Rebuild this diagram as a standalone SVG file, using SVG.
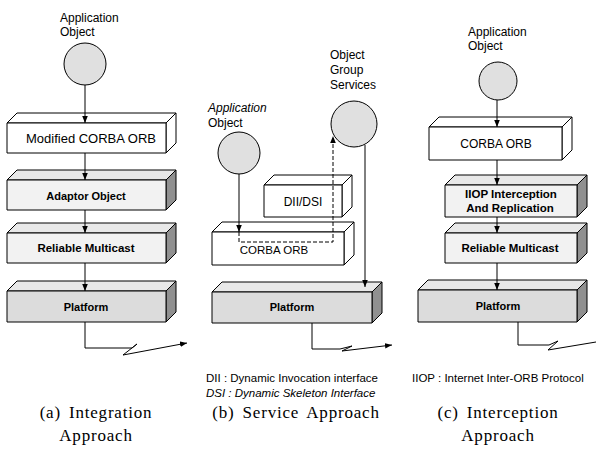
<svg xmlns="http://www.w3.org/2000/svg" width="596" height="462" viewBox="0 0 596 462">
<defs>
<marker id="ah" viewBox="0 0 10 10" refX="10" refY="5" markerWidth="7" markerHeight="7" markerUnits="userSpaceOnUse" orient="auto">
<path d="M0,1 L10,5 L0,9 Z" fill="#000"/>
</marker>
</defs>
<style>
.f{stroke:#000;stroke-width:1;stroke-linejoin:round}
.w{fill:#fff}
.lt{fill:#f2f2f2}
.tp{fill:#e8e8e8}
.gr{fill:#dcdcdc}
.sd{fill:#909090}
.obj{fill:#e0e0e0;stroke:#000;stroke-width:1}
.ln{fill:none;stroke:#000;stroke-width:1}
.dash{fill:none;stroke:#000;stroke-width:1;stroke-dasharray:4 2}
text{font-family:"Liberation Sans",Arial,sans-serif;fill:#000}
.l{font-size:12px}
.it{font-style:italic}
.b{font-weight:bold}
.c{text-anchor:middle}
.leg{font-size:11.5px}
.cap{font-family:"Liberation Serif","Times New Roman",serif;font-size:17px;letter-spacing:0.8px;word-spacing:3px;text-anchor:middle}
</style>

<!-- Panel (a) -->
<g id="a-app">
<text class="l" x="60" y="22">Application</text>
<text class="l" x="60" y="36">Object</text>
<circle class="obj" cx="85" cy="64" r="21"/>
</g>
<g id="a-orb">
<path class="f w" d="M7,123 L17,113 L176,113 L166,123 Z"/>
<path class="f w" d="M166,123 L176,113 L176,143 L166,153 Z"/>
<rect class="f w" x="7" y="123" width="159" height="30"/>
<text class="l c" x="91" y="143" style="font-size:13px">Modified CORBA ORB</text>
</g>
<g id="a-adaptor">
<path class="f tp" d="M7,180 L17,170 L176,170 L166,180 Z"/>
<path class="f sd" d="M166,180 L176,170 L176,200 L166,210 Z"/>
<rect class="f lt" x="7" y="180" width="159" height="30"/>
<text class="b c" x="86" y="200" style="font-size:11px">Adaptor Object</text>
</g>
<g id="a-rm">
<path class="f tp" d="M7,233 L17,223 L176,223 L166,233 Z"/>
<path class="f sd" d="M166,233 L176,223 L176,253 L166,263 Z"/>
<rect class="f lt" x="7" y="233" width="159" height="30"/>
<text class="b c" x="86" y="252" style="font-size:11.5px">Reliable Multicast</text>
</g>
<g id="a-platform">
<path class="f tp" d="M7,291 L17,281 L176,281 L166,291 Z"/>
<path class="f sd" d="M166,291 L176,281 L176,312 L166,322 Z"/>
<rect class="f gr" x="7" y="291" width="159" height="31"/>
<text class="b c" x="86" y="311" style="font-size:11px">Platform</text>
</g>

<!-- Panel (b) -->
<g id="b-app">
<text class="l it" x="208" y="112">Application</text>
<text class="l" x="208" y="127">Object</text>
<circle class="obj" cx="239" cy="153" r="21"/>
</g>
<g id="b-ogs">
<text class="l" x="330" y="59">Object</text>
<text class="l" x="330" y="74">Group</text>
<text class="l" x="330" y="89">Services</text>
<circle class="obj" cx="354" cy="124" r="23"/>
</g>
<g id="b-dii">
<path class="f w" d="M264,185 L274,175 L352,175 L342,185 Z"/>
<path class="f w" d="M342,185 L352,175 L352,207 L342,217 Z"/>
<rect class="f w" x="264" y="185" width="78" height="32"/>
<text class="l c" x="303" y="206">DII/DSI</text>
</g>
<g id="b-orb">
<path class="f w" d="M212,232 L222,222 L354,222 L344,232 Z"/>
<path class="f w" d="M344,232 L354,222 L354,255 L344,265 Z"/>
<rect class="f w" x="212" y="232" width="132" height="33"/>
<text class="l c" x="274" y="254" style="font-size:11.5px">CORBA ORB</text>
</g>
<g id="b-platform">
<path class="f tp" d="M212,292 L222,282 L382,282 L372,292 Z"/>
<path class="f sd" d="M372,292 L382,282 L382,313 L372,323 Z"/>
<rect class="f gr" x="212" y="292" width="160" height="31"/>
<text class="b c" x="292" y="311" style="font-size:11px">Platform</text>
</g>

<!-- Panel (c) -->
<g id="c-app">
<text class="l" x="468" y="36">Application</text>
<text class="l" x="468" y="50">Object</text>
<circle class="obj" cx="498" cy="81" r="19"/>
</g>
<g id="c-orb">
<path class="f w" d="M429,127 L439,117 L572,117 L562,127 Z"/>
<path class="f w" d="M562,127 L572,117 L572,150 L562,160 Z"/>
<rect class="f w" x="429" y="127" width="133" height="33"/>
<text class="l c" x="496" y="148">CORBA ORB</text>
</g>
<g id="c-iiop">
<path class="f tp" d="M445,185 L455,175 L587,175 L577,185 Z"/>
<path class="f sd" d="M577,185 L587,175 L587,207 L577,217 Z"/>
<rect class="f lt" x="445" y="185" width="132" height="32"/>
<text class="b c" x="511" y="198" style="font-size:11.5px">IIOP Interception</text>
<text class="b c" x="510" y="212" style="font-size:11.5px">And Replication</text>
</g>
<g id="c-rm">
<path class="f tp" d="M445,233 L455,223 L587,223 L577,233 Z"/>
<path class="f sd" d="M577,233 L587,223 L587,253 L577,263 Z"/>
<rect class="f lt" x="445" y="233" width="132" height="30"/>
<text class="b c" x="510" y="252" style="font-size:11.5px">Reliable Multicast</text>
</g>
<g id="c-platform">
<path class="f tp" d="M418,290 L428,280 L587,280 L577,290 Z"/>
<path class="f sd" d="M577,290 L587,280 L587,312 L577,322 Z"/>
<rect class="f gr" x="418" y="290" width="159" height="32"/>
<text class="b c" x="498" y="310" style="font-size:11px">Platform</text>
</g>

<!-- Connectors -->
<g id="connectors">
<line class="ln" x1="85" y1="85" x2="85" y2="123" marker-end="url(#ah)"/>
<line class="ln" x1="85" y1="153" x2="85" y2="180" marker-end="url(#ah)"/>
<line class="ln" x1="85" y1="210" x2="85" y2="233" marker-end="url(#ah)"/>
<line class="ln" x1="85" y1="263" x2="85" y2="291" marker-end="url(#ah)"/>
<polyline class="ln" points="85,322 85,348 132,348 137,344 123,355 187,343" marker-end="url(#ah)"/>

<line class="ln" x1="239" y1="174" x2="239" y2="232" marker-end="url(#ah)"/>
<polyline class="dash" points="239,232 239,242 333,242 333,136" marker-end="url(#ah)"/>
<line class="ln" x1="365" y1="145" x2="365" y2="287" marker-end="url(#ah)"/>
<polyline class="ln" points="312,323 312,349 340,349 352,346 342,351 392,345" marker-end="url(#ah)"/>

<line class="ln" x1="497" y1="100" x2="497" y2="127" marker-end="url(#ah)"/>
<line class="ln" x1="497" y1="160" x2="497" y2="185" marker-end="url(#ah)"/>
<line class="ln" x1="497" y1="217" x2="497" y2="233" marker-end="url(#ah)"/>
<line class="ln" x1="497" y1="263" x2="497" y2="290" marker-end="url(#ah)"/>
<polyline class="ln" points="518,322 518,345 549,345 558,341 548,350 596,342"/>
</g>

<!-- Legends and captions -->
<text class="leg" x="206" y="382">DII : Dynamic Invocation interface</text>
<text class="leg it" x="206" y="397">DSI : Dynamic Skeleton Interface</text>
<text class="leg" x="412" y="382">IIOP : Internet Inter-ORB Protocol</text>

<text class="cap" x="96" y="418">(a) Integration</text>
<text class="cap" x="96" y="441">Approach</text>
<text class="cap" x="296" y="418">(b) Service Approach</text>
<text class="cap" x="498" y="418">(c) Interception</text>
<text class="cap" x="498" y="441">Approach</text>
</svg>
